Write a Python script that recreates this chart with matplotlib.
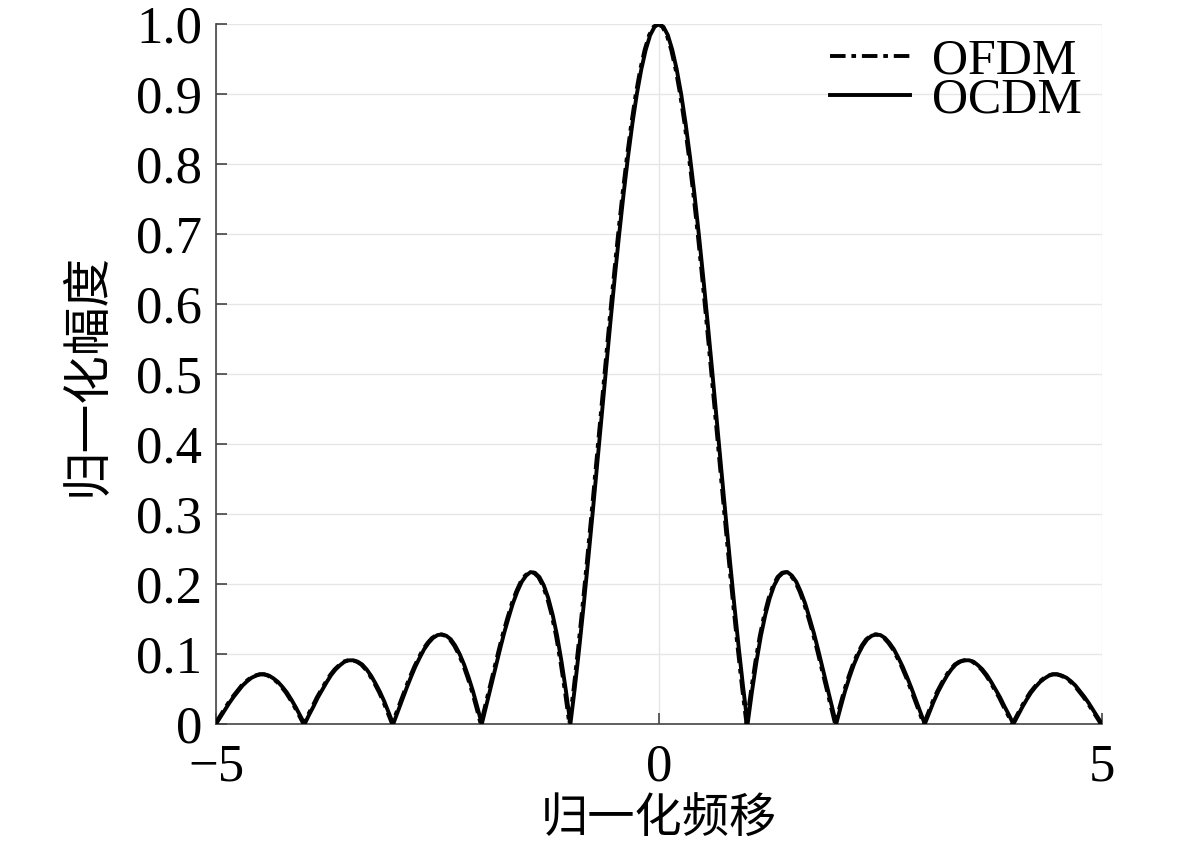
import matplotlib
matplotlib.use("Agg")
import matplotlib.pyplot as plt
from matplotlib.ticker import FixedLocator, FuncFormatter

# normalized frequency offset, step 0.05
freq = [round(-5 + 0.05 * i, 2) for i in range(201)]

# normalized amplitude (symmetric about 0)
ocdm_amp = [
	0.000, 0.010, 0.020, 0.030, 0.039, 0.047, 0.055, 0.061, 0.066, 0.069,
	0.071, 0.071, 0.069, 0.065, 0.060, 0.053, 0.045, 0.035, 0.024, 0.012,
	0.000, 0.013, 0.025, 0.038, 0.049, 0.060, 0.070, 0.078, 0.084, 0.089,
	0.091, 0.091, 0.089, 0.085, 0.078, 0.069, 0.058, 0.046, 0.032, 0.016,
	0.000, 0.017, 0.034, 0.051, 0.067, 0.082, 0.095, 0.107, 0.116, 0.123,
	0.127, 0.128, 0.126, 0.121, 0.112, 0.100, 0.085, 0.067, 0.047, 0.024,
	0.000, 0.026, 0.052, 0.078, 0.104, 0.129, 0.151, 0.172, 0.189, 0.203,
	0.212, 0.217, 0.216, 0.210, 0.198, 0.180, 0.156, 0.126, 0.089, 0.047,
	0.000, 0.052, 0.109, 0.170, 0.234, 0.300, 0.368, 0.436, 0.505, 0.572,
	0.637, 0.699, 0.757, 0.810, 0.858, 0.900, 0.935, 0.963, 0.984, 0.996,
	1.000,
	0.996, 0.984, 0.963, 0.935, 0.900, 0.858, 0.810, 0.757, 0.699, 0.637,
	0.572, 0.505, 0.436, 0.368, 0.300, 0.234, 0.170, 0.109, 0.052, 0.000,
	0.047, 0.089, 0.126, 0.156, 0.180, 0.198, 0.210, 0.216, 0.217, 0.212,
	0.203, 0.189, 0.172, 0.151, 0.129, 0.104, 0.078, 0.052, 0.026, 0.000,
	0.024, 0.047, 0.067, 0.085, 0.100, 0.112, 0.121, 0.126, 0.128, 0.127,
	0.123, 0.116, 0.107, 0.095, 0.082, 0.067, 0.051, 0.034, 0.017, 0.000,
	0.016, 0.032, 0.046, 0.058, 0.069, 0.078, 0.085, 0.089, 0.091, 0.091,
	0.089, 0.084, 0.078, 0.070, 0.060, 0.049, 0.038, 0.025, 0.013, 0.000,
	0.012, 0.024, 0.035, 0.045, 0.053, 0.060, 0.065, 0.069, 0.071, 0.071,
	0.069, 0.066, 0.061, 0.055, 0.047, 0.039, 0.030, 0.020, 0.010, 0.000,
]
ofdm_amp = list(ocdm_amp)

x_ticks = [-5, 0, 5]
y_ticks = [0.0, 0.1, 0.2, 0.3, 0.4, 0.5, 0.6, 0.7, 0.8, 0.9, 1.0]

plt.rcParams["font.family"] = ["Liberation Serif", "Noto Sans CJK SC"]
plt.rcParams["axes.unicode_minus"] = True

fig = plt.figure(figsize=(11.81, 8.47), dpi=100)
ax = fig.add_axes([0.1829, 0.1452, 0.7502, 0.8265])

ax.plot(freq, ocdm_amp, color="black", linewidth=2.8, linestyle="-", label="OCDM", zorder=3)
ax.plot([f - 0.012 for f in freq], ofdm_amp, color="black", linewidth=2.8,
	linestyle=(0, (4, 1.5, 1.2, 1.5)), label="OFDM", zorder=4)

ax.set_xlim(-5, 5)
ax.set_ylim(0, 1.0)
ax.xaxis.set_major_locator(FixedLocator(x_ticks))
ax.yaxis.set_major_locator(FixedLocator(y_ticks))
ax.xaxis.set_major_formatter(FuncFormatter(lambda v, p: f"{v:.0f}".replace("-", "\u2212")))
ax.yaxis.set_major_formatter(FuncFormatter(lambda v, p: "0" if v == 0 else f"{v:.1f}"))

ax.grid(True, color="#e6e6e6", linewidth=1.0, zorder=0)
ax.set_axisbelow(True)
for side in ["top", "right"]:
	ax.spines[side].set_visible(False)
for side in ["left", "bottom"]:
	ax.spines[side].set_color("#444444")
	ax.spines[side].set_linewidth(1.2)

ax.tick_params(direction="in", length=8, width=1.2, color="#444444", labelsize=38)
ax.tick_params(axis="x", pad=14)
ax.tick_params(axis="y", pad=10)

ax.set_xlabel("归一化频移", fontsize=34, labelpad=5)
ax.set_ylabel("归一化幅度", fontsize=35, labelpad=18)

handles, labels = ax.get_legend_handles_labels()
ax.legend(handles[::-1], labels[::-1], loc="upper right", frameon=False,
	fontsize=36, handlelength=1.6, handletextpad=0.45, labelspacing=-0.15,
	borderaxespad=0.0, bbox_to_anchor=(1.0, 1.008))

fig.savefig("out.png", dpi=100)
